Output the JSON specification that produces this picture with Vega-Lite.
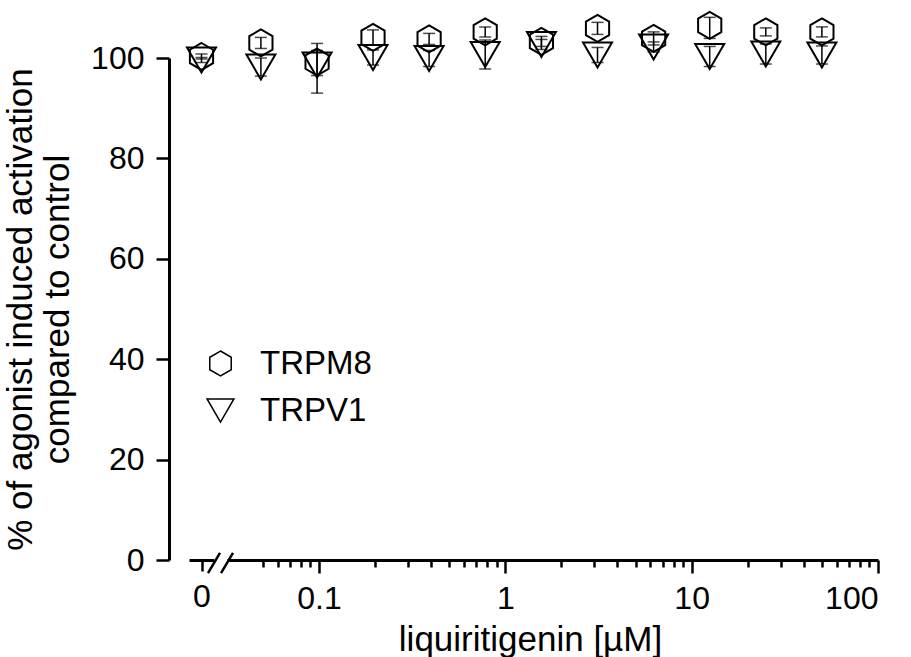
{
  "$schema": "https://vega.github.io/schema/vega-lite/v6.json",
  "background": "white",
  "padding": {"left": 3, "top": 7, "right": 4, "bottom": 2},
  "bounds": "flush",
  "spacing": 13,
  "config": {
    "font": "Liberation Sans",
    "view": {"stroke": null},
    "axis": {
      "domainColor": "black", "domainWidth": 3, "tickColor": "black", "tickWidth": 2.5,
      "labelColor": "black", "labelFont": "Liberation Sans", "labelFontSize": 32,
      "titleFont": "Liberation Sans", "titleFontSize": 35, "titleFontWeight": "normal", "titleColor": "black",
      "grid": false
    },
    "legend": {
      "labelFont": "Liberation Sans", "labelFontSize": 33, "labelColor": "black"
    }
  },
  "resolve": {"scale": {"shape": "independent", "x": "independent"}, "legend": {"shape": "independent"}},
  "datasets": {
    "control": [
      {"conc": 0, "series": "TRPM8", "mean": 100.3, "lo": 99.8, "hi": 100.8},
      {"conc": 0, "series": "TRPV1", "mean": 99.6, "lo": 99.1, "hi": 100.1}
    ],
    "dose": [
      {"conc": 0.0488, "series": "TRPM8", "mean": 103.0, "lo": 101.9, "hi": 104.1},
      {"conc": 0.0977, "series": "TRPM8", "mean": 99.2, "lo": 96.5, "hi": 102.9},
      {"conc": 0.195, "series": "TRPM8", "mean": 104.1, "lo": 102.6, "hi": 105.6},
      {"conc": 0.39, "series": "TRPM8", "mean": 103.8, "lo": 102.7, "hi": 104.9},
      {"conc": 0.78, "series": "TRPM8", "mean": 105.2, "lo": 104.2, "hi": 106.2},
      {"conc": 1.5625, "series": "TRPM8", "mean": 103.3, "lo": 102.3, "hi": 104.3},
      {"conc": 3.125, "series": "TRPM8", "mean": 105.9, "lo": 104.7, "hi": 107.1},
      {"conc": 6.25, "series": "TRPM8", "mean": 103.9, "lo": 102.6, "hi": 105.2},
      {"conc": 12.5, "series": "TRPM8", "mean": 106.5, "lo": 103.9, "hi": 108.1},
      {"conc": 25, "series": "TRPM8", "mean": 105.2, "lo": 104.4, "hi": 106.0},
      {"conc": 50, "series": "TRPM8", "mean": 105.2, "lo": 104.2, "hi": 106.2},
      {"conc": 0.0488, "series": "TRPV1", "mean": 98.2, "lo": 96.4, "hi": 100.0},
      {"conc": 0.0977, "series": "TRPV1", "mean": 98.6, "lo": 93.0, "hi": 101.5},
      {"conc": 0.195, "series": "TRPV1", "mean": 100.1, "lo": 98.6, "hi": 101.6},
      {"conc": 0.39, "series": "TRPV1", "mean": 99.9, "lo": 98.3, "hi": 101.5},
      {"conc": 0.78, "series": "TRPV1", "mean": 100.7, "lo": 97.8, "hi": 103.6},
      {"conc": 1.5625, "series": "TRPV1", "mean": 102.7, "lo": 101.7, "hi": 103.7},
      {"conc": 3.125, "series": "TRPV1", "mean": 100.6, "lo": 99.1, "hi": 102.1},
      {"conc": 6.25, "series": "TRPV1", "mean": 102.2, "lo": 101.2, "hi": 103.2},
      {"conc": 12.5, "series": "TRPV1", "mean": 100.3, "lo": 98.3, "hi": 102.3},
      {"conc": 25, "series": "TRPV1", "mean": 100.8, "lo": 98.8, "hi": 102.8},
      {"conc": 50, "series": "TRPV1", "mean": 100.6, "lo": 98.8, "hi": 102.4}
    ],
    "axisbreak": [
      {"x": 0.52, "y": -2.6, "x2": 1.48, "y2": 1.4},
      {"x": 1.56, "y": -2.6, "x2": 2.52, "y2": 1.4}
    ]
  },
  "hconcat": [
    {
      "width": 25,
      "height": 502,
      "layer": [
        {
          "data": {"name": "control"},
          "mark": {"type": "rule", "color": "black", "strokeWidth": 1.5},
          "encoding": {
            "x": {"field": "conc", "type": "quantitative", "scale": {"domain": [-1, 1], "nice": false, "zero": false},
                  "axis": {"values": [0], "tickSize": 11, "labelPadding": 10, "title": null}},
            "y": {"field": "lo", "type": "quantitative", "scale": {"domain": [0, 100], "nice": false},
                  "axis": {"values": [0, 20, 40, 60, 80, 100], "offset": 20, "tickSize": 13, "labelPadding": 12,
                           "title": ["% of agonist induced activation", "compared to control"],
                           "titlePadding": 15, "titleLineHeight": 37}},
            "y2": {"field": "hi"}
          }
        },
        {
          "data": {"name": "control"},
          "mark": {"type": "tick", "orient": "horizontal", "color": "black", "size": 12, "thickness": 1.5},
          "encoding": {
            "x": {"field": "conc", "type": "quantitative"},
            "y": {"field": "lo", "type": "quantitative"}
          }
        },
        {
          "data": {"name": "control"},
          "mark": {"type": "tick", "orient": "horizontal", "color": "black", "size": 12, "thickness": 1.5},
          "encoding": {
            "x": {"field": "conc", "type": "quantitative"},
            "y": {"field": "hi", "type": "quantitative"}
          }
        },
        {
          "data": {"name": "control"},
          "mark": {"type": "point", "filled": false, "color": "black", "strokeWidth": 2, "size": 841, "opacity": 1},
          "encoding": {
            "x": {"field": "conc", "type": "quantitative"},
            "y": {"field": "mean", "type": "quantitative"},
            "shape": {"field": "series", "type": "nominal",
                      "scale": {"domain": ["TRPM8", "TRPV1"], "range": ["M0,-0.93L0.8,-0.465L0.8,0.465L0,0.93L-0.8,0.465L-0.8,-0.465Z", "triangle-down"]},
                      "legend": null}
          }
        },
        {
          "data": {"name": "axisbreak"},
          "mark": {"type": "rule", "color": "black", "strokeWidth": 2.5},
          "encoding": {
            "x": {"field": "x", "type": "quantitative"},
            "x2": {"field": "x2"},
            "y": {"field": "y", "type": "quantitative"},
            "y2": {"field": "y2"}
          }
        }
      ]
    },
    {
      "width": 651,
      "height": 502,
      "resolve": {"axis": {"x": "independent"}},
      "layer": [
        {
          "data": {"name": "dose"},
          "mark": {"type": "rule", "color": "black", "strokeWidth": 1.5},
          "encoding": {
            "x": {"field": "conc", "type": "quantitative", "scale": {"type": "log", "domain": [0.0321, 100], "nice": false},
                  "axis": {"orient": "bottom", "values": [0.05, 0.06, 0.07, 0.08, 0.09, 0.2, 0.3, 0.4, 0.5, 0.6, 0.7, 0.8, 0.9, 2, 3, 4, 5, 6, 7, 8, 9, 20, 30, 40, 50, 60, 70, 80, 90],
                           "labels": false, "domain": false, "tickSize": 7, "title": null}},
            "y": {"field": "lo", "type": "quantitative", "scale": {"domain": [0, 100], "nice": false}, "axis": null},
            "y2": {"field": "hi"}
          }
        },
        {
          "data": {"name": "dose"},
          "mark": {"type": "tick", "orient": "horizontal", "color": "black", "size": 12, "thickness": 1.5},
          "encoding": {
            "x": {"field": "conc", "type": "quantitative", "axis": null},
            "y": {"field": "lo", "type": "quantitative", "axis": null}
          }
        },
        {
          "data": {"name": "dose"},
          "mark": {"type": "tick", "orient": "horizontal", "color": "black", "size": 12, "thickness": 1.5},
          "encoding": {
            "x": {"field": "conc", "type": "quantitative", "axis": null},
            "y": {"field": "hi", "type": "quantitative", "axis": null}
          }
        },
        {
          "data": {"name": "dose"},
          "mark": {"type": "point", "filled": false, "color": "black", "strokeWidth": 2, "size": 841, "opacity": 1},
          "encoding": {
            "x": {"field": "conc", "type": "quantitative",
                  "axis": {"orient": "bottom", "values": [0.1, 1, 10, 100], "format": "~g", "tickSize": 13, "labelPadding": 10,
                           "title": "liquiritigenin [µM]", "titleX": 303, "titleAlign": "center", "titlePadding": 8}},
            "y": {"field": "mean", "type": "quantitative", "axis": null},
            "shape": {"field": "series", "type": "nominal",
                      "scale": {"domain": ["TRPM8", "TRPV1"], "range": ["M0,-0.93L0.8,-0.465L0.8,0.465L0,0.93L-0.8,0.465L-0.8,-0.465Z", "triangle-down"]},
                      "legend": {"orient": "none", "legendX": -23, "legendY": 289, "title": null,
                                 "symbolSize": 720, "symbolStrokeColor": "black", "symbolFillColor": "transparent",
                                 "symbolStrokeWidth": 1.5, "labelOffset": 23, "rowPadding": 13}}
          }
        }
      ]
    }
  ]
}
